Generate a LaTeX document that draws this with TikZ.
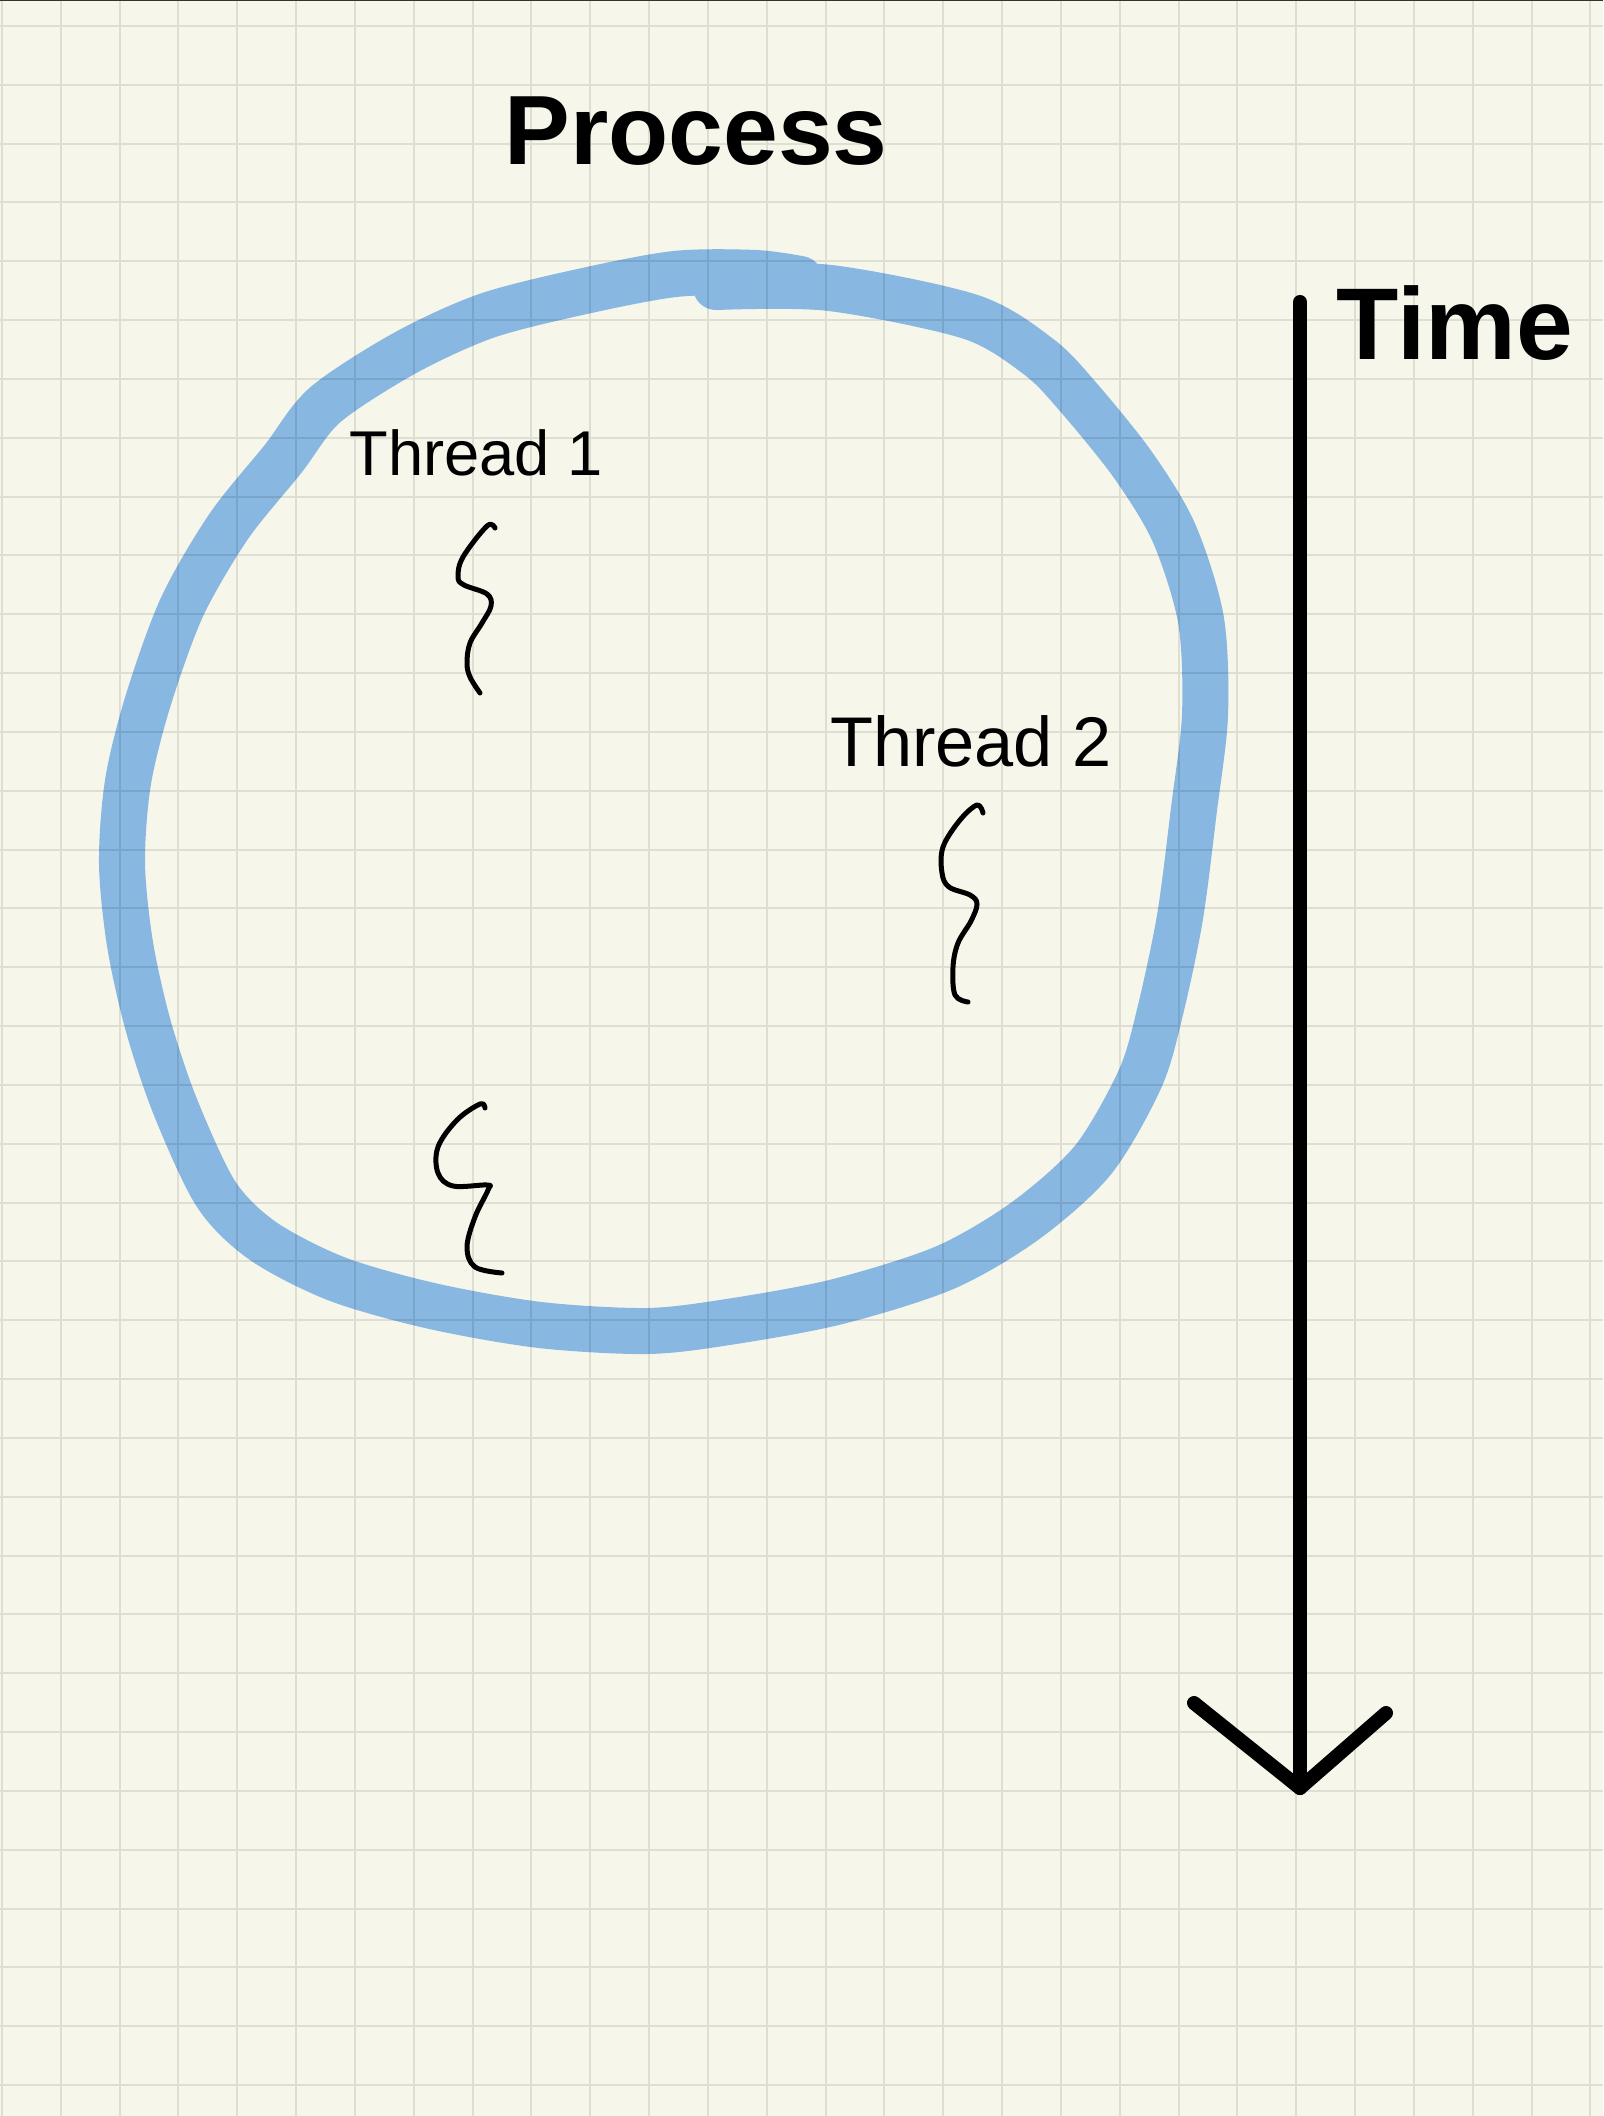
\documentclass[tikz,border=0pt]{standalone}
\usepackage{fontspec}
\setmainfont{Liberation Sans}
\usetikzlibrary{positioning}

\definecolor{paper}{RGB}{246,246,235}
\definecolor{gridline}{RGB}{222,222,211}
\definecolor{marker}{RGB}{141,190,245}

\begin{document}
\begin{tikzpicture}
  [
    x=0.01cm, y=-0.01cm,
    Label/.style={inner sep=0pt, text=black},
    Pen/.style={draw=black, line width=0.05cm, line cap=round, line join=round},
    Marker/.style={draw=marker, line width=0.46cm, line cap=round, line join=round, blend mode=multiply},
    Arrow/.style={draw=black, line width=0.14cm, line cap=round, line join=round},
    Grid/.style={draw=gridline, line width=0.02cm}
  ]
  % Paper
  \fill[paper] (0,0) rectangle (1603,2116);
  \useasboundingbox (0,0) rectangle (1603,2116);
  \foreach \i in {0,...,27} \draw[Grid] ({2+58.83*\i},0) -- ({2+58.83*\i},2116);
  \foreach \j in {0,...,35} \draw[Grid] (0,{26+58.83*\j}) -- (1603,{26+58.83*\j});
  \draw[black!80, line width=0.015cm] (0,0) -- (1603,0);

  % Nodes
  \node[Label, font=\fontsize{28}{28}\selectfont\bfseries] (process) at (696,131) {Process};
  \node[Label, font=\fontsize{29}{29}\selectfont\bfseries] (time) at (1455,323) {Time};
  \node[Label, font=\fontsize{18}{18}\selectfont] (thread1) at (476,453) {Thread 1};
  \node[Label, font=\fontsize{20}{20}\selectfont] (thread2) at (971,741) {Thread 2};

  \coordinate (tstart) at (1300,302);
  \coordinate (tend) at (1300,1788);
  \coordinate (tleft) at (1194,1703);
  \coordinate (tright) at (1386,1713);

  % Process
  \draw[Marker] plot[smooth, tension=0.5] coordinates {(716,287) (830,288) (971,317) (1039,357) (1079,398) (1133,465) (1174,533) (1201,620) (1205,715) (1194,809) (1180,917) (1160,1012) (1140,1079) (1093,1160) (1025,1221) (944,1268) (836,1302) (728,1322) (647,1331) (540,1325) (432,1306) (337,1279) (263,1241) (216,1194) (175,1106) (148,1025) (130,944) (122,863) (128,782) (148,701) (182,607) (229,526) (283,459) (325,405) (405,353) (486,316) (580,292) (675,274) (755,273) (800,279)};

  % Threads
  \draw[Pen] plot[smooth, tension=0.6] coordinates {(495,528) (487,526) (463,557) (458,577) (464,585) (487,594) (491,606) (482,623) (470,643) (467,663) (470,677) (480,693)};
  \draw[Pen] plot[smooth, tension=0.6] coordinates {(983,813) (977,805) (960,820) (943,847) (942,873) (949,887) (970,895) (977,904) (971,921) (958,943) (953,967) (955,995) (968,1002)};
  \draw[Pen] plot[smooth, tension=0.6] coordinates {(485,1108) (480,1104) (457,1120) (438,1147) (438,1173) (453,1186) (487,1185) (488,1190) (475,1217) (467,1247) (475,1267) (502,1273)};

  % Lines
  \draw[Arrow] (tstart) -- (tend);
  \draw[Arrow] (tleft) -- (tend) -- (tright);
\end{tikzpicture}
\end{document}
